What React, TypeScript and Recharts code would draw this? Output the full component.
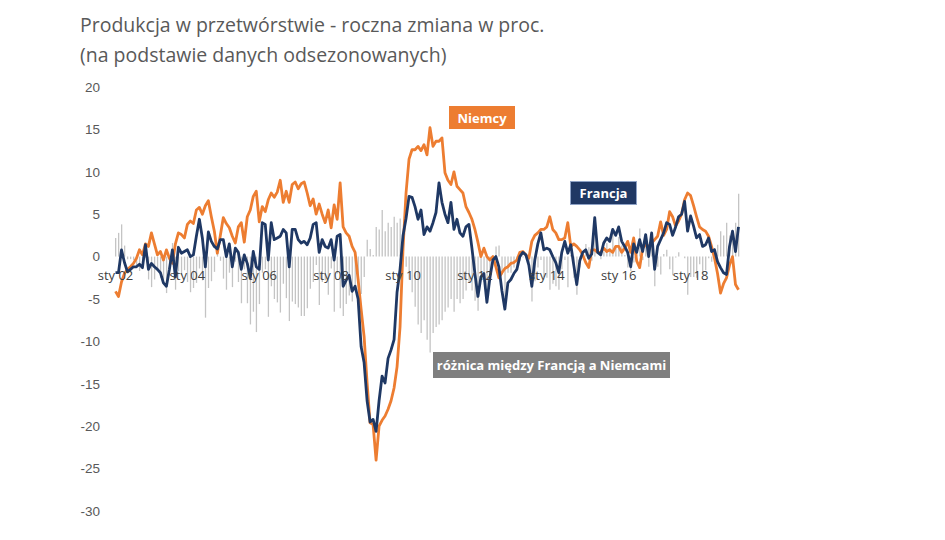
import React from 'react';
import { ComposedChart, Bar, Line, XAxis, YAxis, ReferenceDot } from 'recharts';

const monthNames = ['sty', 'lut', 'mar', 'kwi', 'maj', 'cze', 'lip', 'sie', 'wrz', 'paź', 'lis', 'gru'];
const yearCodes = ['02', '03', '04', '05', '06', '07', '08', '09', '10', '11', '12', '13', '14', '15', '16', '17', '18', '19'];

// sty 02 .. maj 19
const categories = yearCodes.flatMap((y) => monthNames.map((m) => `${m} ${y}`)).slice(0, 209);

const tickLabels = ['sty 02', 'sty 04', 'sty 06', 'sty 08', 'sty 10', 'sty 12', 'sty 14', 'sty 16', 'sty 18'];
const yTicks = [-30, -25, -20, -15, -10, -5, 0, 5, 10, 15, 20];

const niemcy = [
  -4.1, -4.7, -3.0, -2.0, -1.5, -1.2, -0.8, -0.2, 0.8, 0.2, 1.5, 1.2,
  2.8, 1.5, 0.2, 0.6, -0.4, 0.8, -0.2, -0.8, 1.5, 2.8, 2.6, 2.2,
  3.8, 4.2, 3.9, 5.5, 5.8, 5.0, 6.0, 6.6, 4.7, 3.0, 0.4, 2.5,
  4.6, 3.9, 3.4, 2.4, 1.6, 3.5, 4.0, 1.7, 4.7, 5.5, 7.1, 7.7,
  4.1, 5.9, 5.3, 6.7, 7.5, 7.0, 7.6, 9.0, 6.4, 7.7, 6.4, 8.5,
  8.8, 8.0, 8.6, 8.8, 7.5, 6.0, 6.8, 5.0, 6.2, 5.0, 4.0, 5.5,
  3.4, 6.1, 4.4, 8.7, 3.5, 2.8, 2.4, 1.2, 0.5, -2.7, -6.2, -9.4,
  -14.9, -19.6, -19.8, -24.0, -20.0, -19.3, -18.8, -18.0, -17.0, -15.5, -13.0, -8.3,
  1.0, 7.5, 11.5, 12.6, 12.6, 13.0, 12.5, 13.2, 12.0, 15.2, 13.0, 13.6,
  13.6, 14.0, 9.9, 9.0, 8.5, 10.0, 8.3, 7.9, 7.5, 5.9, 5.2, 4.4,
  3.2, 1.7, 0.0, 1.0, 0.0, -0.4, 0.0, -1.2, -2.5, -1.9, -1.4, -1.2,
  -0.8, -0.7, -0.4, 0.5, 0.6, 0.2, -0.2, 1.8, 2.5, 2.8, 3.2, 3.2,
  3.5, 4.7, 3.2, 2.8, 2.0, 2.0, 2.2, 4.0, 1.2, 1.5, 1.2, 0.8,
  0.2, -0.7, -1.3, 0.8, 0.8, 0.5, 0.5, 1.0, 0.6, 0.8, 0.5, 1.2,
  1.2, 0.5, 1.0, 1.8, 0.5, 2.2, -0.5, -1.3, 1.0, 1.4, 1.2, 1.6,
  2.0, 2.4, 4.1, 2.5, 3.2, 5.3, 4.7, 3.6, 4.2, 5.0, 6.7, 7.5,
  7.2, 6.0, 4.7, 3.5, 3.2, 3.0, 2.4, 1.2, -0.2, -2.0, -4.3, -3.2,
  -2.5, -1.0, 0.0, -3.3, -3.9,
];

const francja = [
  -1.9, -1.9, 0.8, -0.7, -1.8, -1.5, -1.2, -1.2, -0.9, -1.3, 1.4, -1.5,
  -0.8, -1.2, -1.5, -1.9, -3.1, -3.5, -1.5, 0.8, -2.4, 1.1, 0.4, 0.6,
  0.8, 0.0, 0.2, 2.4, 4.4, 2.2, -1.2, 2.9, 1.8, 1.2, 0.9, 2.0,
  2.0, 0.0, 1.5, -1.2, 1.0, 0.5, -1.5, 0.2, -0.8, -2.5, 0.6, -1.2,
  -1.5, 4.0, 3.8, -0.4, 4.0, 2.0, 2.2, 2.4, 3.2, 2.8, -1.2, 3.2,
  3.2, 2.0, 1.6, 1.8, 1.4, 2.2, 3.8, 4.0, 0.5, 2.0, 1.2, 1.0,
  2.0, -0.4, 2.4, 2.6, -3.5, -2.8, -2.2, -4.1, -3.5, -5.0, -10.6, -12.5,
  -17.0, -19.5, -19.2, -20.6, -17.0, -14.1, -14.9, -12.0, -11.0, -9.8, -4.2, -1.5,
  2.5, 4.5, 7.1, 7.0, 5.9, 4.4, 5.5, 2.6, 3.5, 3.0, 4.0, 5.2,
  8.7, 6.4, 5.0, 4.0, 6.4, 3.2, 4.4, 2.8, 2.4, 3.5, 3.8, 1.0,
  -2.0, -4.7, -2.4, -2.0, -5.4, -2.5, -0.4, 0.0, -1.2, -4.0, -6.2, -3.1,
  -2.7, -2.0, -1.5, 0.0, 0.5, 0.2, -1.0, -3.5, -0.4, 1.5, 2.8, 0.8,
  1.0, 0.8, 0.0, -0.7, -1.9, 0.5, 1.8, 0.4, 1.4, -1.0, -3.3, -0.5,
  0.5, 0.8, -0.2, 0.3, 4.6, 0.5, 0.2, 1.6, 2.2, 1.8, 3.2, 2.5,
  3.5, 1.8, 1.2, 0.5, -1.2, 1.5, 0.5, 2.0, 0.6, 2.6, 0.0, 2.8,
  -1.5, 1.2, 2.0, 2.8, 4.0, 3.8, 2.5, 3.5, 4.7, 5.0, 6.5, 3.0,
  4.8, 3.6, 2.2, 2.6, 1.2, 1.4, 2.2, 0.6, 0.8, -0.6, -1.3, -1.9,
  -2.1, 1.2, 3.0, 0.6, 3.5,
];

// różnica między Francją a Niemcami (słupki)
const roznica = [
  2.2, 2.8, 3.8, 1.3, -0.3, -0.3, -0.4, -1.0, -1.7, -1.5, -0.1, -2.7,
  -3.6, -2.7, -1.7, -2.5, -2.7, -4.3, -1.3, 1.6, -3.9, -1.7, -2.2, -1.6,
  -3.0, -4.2, -3.7, -3.1, -1.4, -2.8, -7.2, -3.7, -2.9, -1.8, 0.5, -0.5,
  -2.6, -3.9, -1.9, -3.6, -0.6, -3.0, -5.5, -1.5, -5.5, -8.0, -6.5, -8.9,
  -5.6, -1.9, -1.5, -7.1, -3.5, -5.0, -5.4, -6.6, -3.2, -4.9, -7.6, -5.3,
  -5.6, -6.0, -7.0, -7.0, -6.1, -3.8, -3.0, -1.0, -5.7, -3.0, -2.8, -4.5,
  -1.4, -6.5, -2.0, -6.1, -7.0, -5.6, -4.6, -5.3, -4.0, -2.3, -4.4, -2.4,
  2.0, 0.9, 0.2, 3.5, 3.2, 5.5, 3.0, 4.0, 3.5, 4.7, 4.0, 4.5,
  0.5, -1.2, -2.7, -4.2, -5.9, -8.0, -9.0, -7.5, -9.8, -11.3, -9.0, -8.3,
  -8.0, -7.5, -6.5, -6.0, -5.0, -6.5, -5.0, -5.5, -5.0, -4.0, -3.0, -4.0,
  -5.2, -6.4, -2.4, -3.0, -5.4, -2.1, -0.4, 1.2, 1.3, -2.1, -4.8, -1.9,
  -1.9, -1.3, -1.1, -0.5, -0.1, 0.0, -0.8, -5.3, -2.9, -1.3, -0.4, -2.4,
  -2.5, -3.9, -3.2, -3.5, -3.9, -1.5, -0.4, -3.6, 0.2, -2.5, -4.5, -1.3,
  0.3, 1.5, 1.1, -0.5, 3.8, 0.0, -0.3, 0.6, 1.6, 1.0, 2.7, 1.3,
  2.3, 1.3, 0.2, -1.3, -1.7, -0.7, 1.0, 3.3, -0.4, 1.2, -1.2, 1.2,
  -3.5, -1.2, -2.1, 0.3, 0.8, -1.5, -2.2, -0.1, 0.5, 0.0, -0.2, -4.5,
  -2.4, -2.4, -2.5, -0.9, -2.0, -1.6, -0.2, -0.6, 1.0, 1.4, 3.0, 2.5,
  4.0, 2.5, 3.0, 4.0, 7.4,
];

const data = categories.map((m, i) => ({
  m,
  niemcy: niemcy[i],
  francja: francja[i],
  roznica: roznica[i],
}));

const boxStyle: React.CSSProperties = {
  position: 'absolute',
  color: '#fff',
  fontWeight: 700,
  fontSize: 13,
  display: 'flex',
  alignItems: 'center',
  justifyContent: 'center',
  boxSizing: 'border-box',
};

export default function App() {
  return (
    <div
      style={{
        position: 'absolute',
        left: 0,
        top: 0,
        width: 945,
        height: 540,
        background: '#fff',
        fontFamily: '"Open Sans", sans-serif',
      }}
    >
      <div style={{ position: 'absolute', left: 80, top: 10, fontSize: 19.5, color: '#595959', lineHeight: '30px' }}>
        Produkcja w przetwórstwie - roczna zmiana w proc.
        <br />
        (na podstawie danych odsezonowanych)
      </div>

      <ComposedChart
        width={945}
        height={540}
        data={data}
        margin={{ top: 87, right: 205, bottom: 29, left: 54 }}
        barGap={0}
      >
        <XAxis dataKey="m" hide />
        <YAxis
          width={60}
          domain={[-30, 20]}
          ticks={yTicks}
          axisLine={false}
          tickLine={false}
          tickMargin={8}
          tick={{ fill: '#595959', fontSize: 13.5, fontFamily: '"Liberation Sans", Arial, sans-serif' }}
        />
        <Bar dataKey="roznica" fill="#c4c4c4" barSize={1.3} isAnimationActive={false} />
        <Line
          type="linear"
          dataKey="niemcy"
          stroke="#ed7d31"
          strokeWidth={2.8}
          dot={false}
          strokeLinejoin="round"
          isAnimationActive={false}
        />
        <Line
          type="linear"
          dataKey="francja"
          stroke="#1f3864"
          strokeWidth={2.8}
          dot={false}
          strokeLinejoin="round"
          isAnimationActive={false}
        />
        {tickLabels.map((t) => (
          <ReferenceDot
            key={t}
            x={t}
            y={0}
            r={0}
            fill="none"
            stroke="none"
            label={{ value: t, position: 'bottom', offset: 14, fill: '#404040', fontSize: 13 }}
          />
        ))}
      </ComposedChart>

      <div style={{ ...boxStyle, left: 449, top: 106, width: 66, height: 23, background: '#ed7d31' }}>Niemcy</div>
      <div
        style={{
          ...boxStyle,
          left: 570,
          top: 181,
          width: 67,
          height: 24,
          background: '#203864',
          border: '1.5px solid #8ea2c6',
        }}
      >
        Francja
      </div>
      <div style={{ ...boxStyle, left: 433, top: 352, width: 237, height: 26, background: '#7f7f7f' }}>
        różnica między Francją a Niemcami
      </div>
    </div>
  );
}
